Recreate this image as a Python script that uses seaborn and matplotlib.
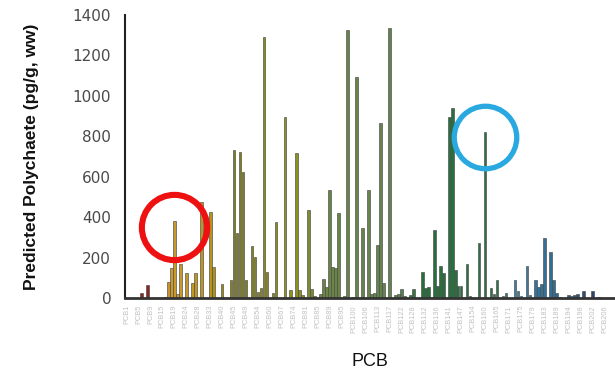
import matplotlib
matplotlib.use("Agg")
import matplotlib.pyplot as plt
from matplotlib.colors import LinearSegmentedColormap, to_hex
import seaborn as sns
import pandas as pd

# ---------------- data ----------------
PCB_NUMBERS = [
    1, 2, 3, 4, 5, 6, 7, 8, 9, 10, 11, 12, 15, 16, 17, 18, 19, 20, 21, 22,
    24, 25, 26, 27, 28, 29, 31, 32, 33, 34, 35, 37, 40, 41, 42, 44, 45, 46, 47, 48,
    49, 51, 52, 53, 54, 56, 58, 59, 60, 63, 64, 66, 67, 70, 71, 73, 74, 75, 77, 79,
    81, 82, 83, 84, 85, 86, 87, 88, 89, 90, 91, 92, 95, 96, 97, 99, 100, 101, 103, 105,
    106, 107, 109, 110, 113, 114, 115, 116, 117, 118, 119, 120, 122, 123, 124, 126, 128, 129, 130, 131,
    132, 133, 134, 135, 136, 137, 138, 140, 141, 142, 144, 146, 147, 149, 151, 153, 154, 156, 157, 158,
    160, 162, 163, 164, 165, 166, 167, 170, 171, 172, 173, 174, 175, 176, 177, 178, 179, 180, 181, 182,
    183, 184, 185, 187, 189, 190, 191, 193, 194, 195, 196, 197, 198, 199, 200, 201, 202, 203, 204, 205,
    206, 207, 208, 209,
]
CONGENERS = [f"PCB{n}" for n in PCB_NUMBERS]

# predicted polychaete concentration (pg/g, ww), one value per congener
PREDICTED = [
    0, 0, 0, 0, 0, 25, 0, 65, 0, 0,
    0, 0, 0, 5, 80, 150, 380, 20, 170, 0,
    125, 0, 75, 125, 0, 475, 0, 0, 425, 155,
    0, 0, 70, 0, 0, 90, 730, 320, 720, 625,
    90, 0, 255, 205, 30, 50, 1290, 130, 0, 25,
    375, 0, 0, 895, 0, 40, 0, 715, 40, 15,
    0, 435, 45, 10, 0, 20, 95, 55, 535, 155,
    150, 420, 0, 10, 1325, 0, 5, 1095, 0, 345,
    0, 535, 20, 25, 262, 865, 75, 0, 1335, 0,
    15, 20, 45, 10, 0, 15, 45, 0, 0, 130,
    50, 55, 0, 335, 60, 160, 125, 0, 895, 940,
    140, 60, 60, 0, 170, 10, 0, 0, 270, 0,
    820, 0, 50, 20, 90, 0, 10, 25, 0, 0,
    90, 35, 10, 0, 160, 15, 0, 90, 55, 70,
    295, 0, 230, 90, 25, 5, 0, 0, 15, 10,
    15, 20, 0, 35, 0, 0, 35, 0, 3, 2,
    2, 2, 2, 2,
]

HIGHLIGHT_RED = "PCB19"
HIGHLIGHT_BLUE = "PCB160"

Y_TICKS = [0, 200, 400, 600, 800, 1000, 1200, 1400]

# ---------------- style ----------------
sns.set_style("white")
plt.rcParams["font.family"] = ["Liberation Sans", "DejaVu Sans"]

df = pd.DataFrame({"PCB": CONGENERS, "value": PREDICTED})

cmap = LinearSegmentedColormap.from_list(
    "pcb",
    [
        (0.00, "#8B1212"),
        (0.05, "#A01A10"),
        (0.085, "#E8A414"),
        (0.17, "#D2A400"),
        (0.22, "#8E8E00"),
        (0.34, "#A8A800"),
        (0.40, "#6F8F38"),
        (0.55, "#5F8C48"),
        (0.60, "#1A7A36"),
        (0.76, "#1E8040"),
        (0.79, "#2C86B8"),
        (0.88, "#1F70A4"),
        (1.00, "#1E2E5C"),
    ],
)
n = len(CONGENERS)
palette = {c: to_hex(cmap(i / (n - 1))) for i, c in enumerate(CONGENERS)}

fig = plt.figure(figsize=(6.15, 3.75), dpi=100)
ax = fig.add_axes([0.2033, 0.2053, 0.7967, 0.7547])

sns.barplot(
    data=df, x="PCB", y="value", hue="PCB", palette=palette, legend=False,
    order=CONGENERS, width=0.9, edgecolor="#4a4a4a", linewidth=0.45, ax=ax,
)

ax.set_xlim(-0.5, n - 0.5)
ax.set_ylim(0, 1400)
ax.set_yticks(Y_TICKS)
ax.set_yticklabels([str(t) for t in Y_TICKS], fontsize=11, color="#4a4a4a",
                   family="DejaVu Sans")
ax.tick_params(axis="y", direction="out", length=4, width=1.2, colors="#333333", pad=6)
for lab in ax.get_yticklabels():
    lab.set_color("#4a4a4a")

ax.set_xticks(range(0, n, 4))
ax.set_xticklabels(CONGENERS[::4], rotation=90, fontsize=5.3, color="#c2c2c2")
ax.tick_params(axis="x", length=0, pad=5)

for s in ("top", "right"):
    ax.spines[s].set_visible(False)
ax.spines["left"].set_color("#222222")
ax.spines["left"].set_linewidth(1.5)
ax.spines["bottom"].set_color("#333333")
ax.spines["bottom"].set_linewidth(2.0)

ax.set_ylabel("Predicted Polychaete (pg/g, ww)", fontsize=12.5, fontweight="bold",
              color="#111111")
ax.yaxis.set_label_coords(-0.176, 0.5)
ax.set_xlabel("PCB", fontsize=13, color="#111111")
ax.xaxis.set_label_coords(0.5, -0.195)

# highlight circles anchored on the circled congeners
ir = CONGENERS.index(HIGHLIGHT_RED)
ib = CONGENERS.index(HIGHLIGHT_BLUE)
ax.plot([ir], [PREDICTED[ir] * 0.93], "o", ms=47, mfc="none", mec="#EE1111",
        mew=4.4, clip_on=False, zorder=5)
ax.plot([ib], [PREDICTED[ib] * 0.97], "o", ms=45, mfc="none", mec="#29A9E0",
        mew=3.8, clip_on=False, zorder=5)

fig.savefig("out.png", dpi=100)
